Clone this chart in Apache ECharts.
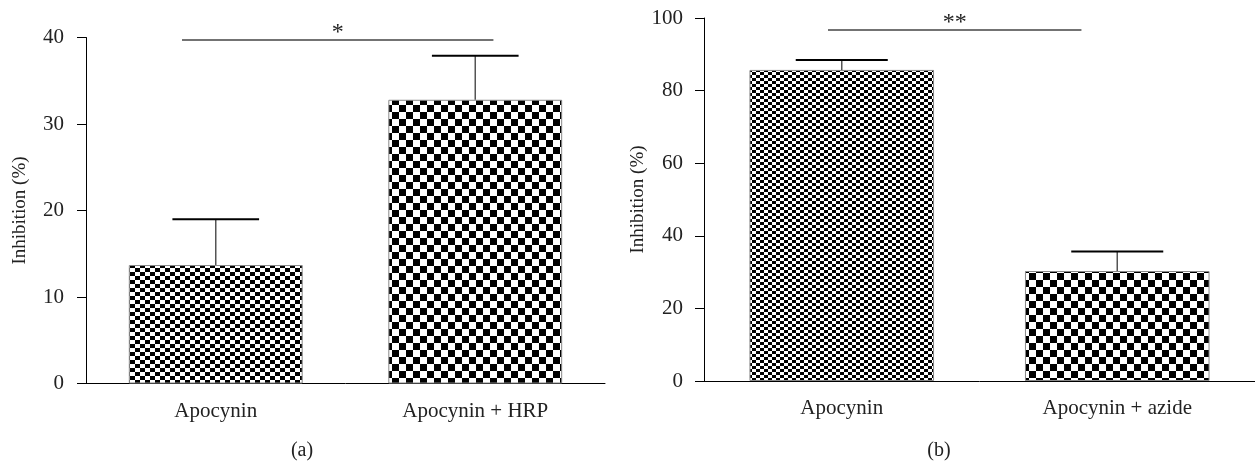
<!DOCTYPE html>
<html>
<head>
<meta charset="utf-8">
<script src="https://cdn.jsdelivr.net/npm/echarts@6/dist/echarts.min.js"></script>
<style>
  html, body {margin: 0; padding: 0; background: #fff;}
  #chart {width: 1255px; height: 464px;}
</style>
</head>
<body>
<div id="chart"></div>
<script>
// panel (a)
const catsA = ['Apocynin', 'Apocynin + HRP'];
const meanA = [13.7, 32.8];
const upperA = [19.0, 37.9];
const sigSpanA = [-0.13, 1.07];
const sigLevelA = 39.7;
const sigTextA = '*';
const ticksA = {max: 40, interval: 10};

// panel (b)
const catsB = ['Apocynin', 'Apocynin + azide'];
const meanB = [85.7, 30.3];
const upperB = [88.4, 35.7];
const sigSpanB = [-0.05, 0.87];
const sigLevelB = 96.7;
const sigTextB = '**';
const ticksB = {max: 100, interval: 20};

const serif = '"Liberation Serif", "DejaVu Serif", serif';
const ink = '#222';

function checker(w, h) {
  const c = document.createElement('canvas');
  c.width = w * 2;
  c.height = h * 2;
  const ctx = c.getContext('2d');
  ctx.fillStyle = '#fff';
  ctx.fillRect(0, 0, c.width, c.height);
  ctx.fillStyle = '#000';
  ctx.fillRect(0, 0, w, h);
  ctx.fillRect(w, h, w, h);
  return {image: c, repeat: 'repeat'};
}

const fillsA = [checker(5, 4), checker(7, 7)];
const fillsB = [checker(4, 3), checker(7, 7)];

function xAxisFor(cats, gi) {
  return {
    type: 'category',
    gridIndex: gi,
    data: cats,
    axisLine: {lineStyle: {color: '#000', width: 1}},
    axisTick: {alignWithLabel: true, length: 9, lineStyle: {color: '#000'}},
    axisLabel: {margin: 17, fontSize: 21, fontFamily: serif, color: ink}
  };
}

function yAxisFor(t, gi, gap, margin) {
  return {
    type: 'value',
    gridIndex: gi,
    min: 0,
    max: t.max,
    interval: t.interval,
    name: 'Inhibition (%)',
    nameLocation: 'middle',
    nameRotate: 90,
    nameGap: gap,
    nameTextStyle: {fontSize: 19, fontFamily: serif, color: ink},
    axisLine: {show: true, lineStyle: {color: '#000', width: 1}},
    axisTick: {show: true, length: 9, lineStyle: {color: '#000'}},
    splitLine: {show: false},
    axisLabel: {margin: margin, fontSize: 21, fontFamily: serif, color: ink}
  };
}

function barsFor(means, fills, gi) {
  return {
    type: 'bar',
    xAxisIndex: gi,
    yAxisIndex: gi,
    barWidth: '67%',
    silent: true,
    data: means.map((v, i) => ({
      value: v,
      itemStyle: {color: fills[i], borderColor: '#888', borderWidth: 1}
    }))
  };
}

function errorsFor(means, uppers, gi) {
  return {
    type: 'custom',
    xAxisIndex: gi,
    yAxisIndex: gi,
    z: 5,
    silent: true,
    data: means.map((m, i) => [i, m, uppers[i]]),
    renderItem(params, api) {
      const base = api.coord([api.value(0), api.value(1)]);
      const top = api.coord([api.value(0), api.value(2)]);
      const half = api.size([1, 0])[0] * 0.167;
      return {
        type: 'group',
        children: [
          {type: 'line', shape: {x1: base[0], y1: base[1], x2: top[0], y2: top[1]},
            style: {stroke: '#555', lineWidth: 1.5}},
          {type: 'line', shape: {x1: top[0] - half, y1: top[1], x2: top[0] + half, y2: top[1]},
            style: {stroke: '#000', lineWidth: 2}}
        ]
      };
    }
  };
}

function sigFor(span, level, text, gi) {
  return {
    type: 'custom',
    xAxisIndex: gi,
    yAxisIndex: gi,
    z: 5,
    silent: true,
    data: [[span[0], span[1], level]],
    renderItem(params, api) {
      const a = api.coord([0, api.value(2)]);
      const b = api.coord([1, api.value(2)]);
      const step = b[0] - a[0];
      const x1 = a[0] + step * api.value(0);
      const x2 = a[0] + step * api.value(1);
      return {
        type: 'group',
        children: [
          {type: 'line', shape: {x1: x1, y1: a[1], x2: x2, y2: a[1]},
            style: {stroke: '#444', lineWidth: 1.5}},
          {type: 'text', x: (x1 + x2) / 2, y: a[1] + 5,
            style: {text: text, fill: ink, font: '24px ' + serif, textAlign: 'center', textVerticalAlign: 'bottom'}}
        ]
      };
    }
  };
}

const chart = echarts.init(document.getElementById('chart'), null, {renderer: 'canvas'});
chart.setOption({
  animation: false,
  backgroundColor: '#fff',
  grid: [
    {left: 86, top: 37.5, width: 519, height: 346},
    {left: 704, top: 18, width: 551, height: 363}
  ],
  xAxis: [xAxisFor(catsA, 0), xAxisFor(catsB, 1)],
  yAxis: [yAxisFor(ticksA, 0, 56, 22), yAxisFor(ticksB, 1, 51, 21)],
  graphic: [
    {type: 'text', x: 302, y: 451, style: {text: '(a)', font: '20px ' + serif, fill: ink, textAlign: 'center', textVerticalAlign: 'middle'}},
    {type: 'text', x: 939, y: 451, style: {text: '(b)', font: '20px ' + serif, fill: ink, textAlign: 'center', textVerticalAlign: 'middle'}}
  ],
  series: [
    barsFor(meanA, fillsA, 0),
    errorsFor(meanA, upperA, 0),
    sigFor(sigSpanA, sigLevelA, sigTextA, 0),
    barsFor(meanB, fillsB, 1),
    errorsFor(meanB, upperB, 1),
    sigFor(sigSpanB, sigLevelB, sigTextB, 1)
  ]
});
</script>
</body>
</html>
